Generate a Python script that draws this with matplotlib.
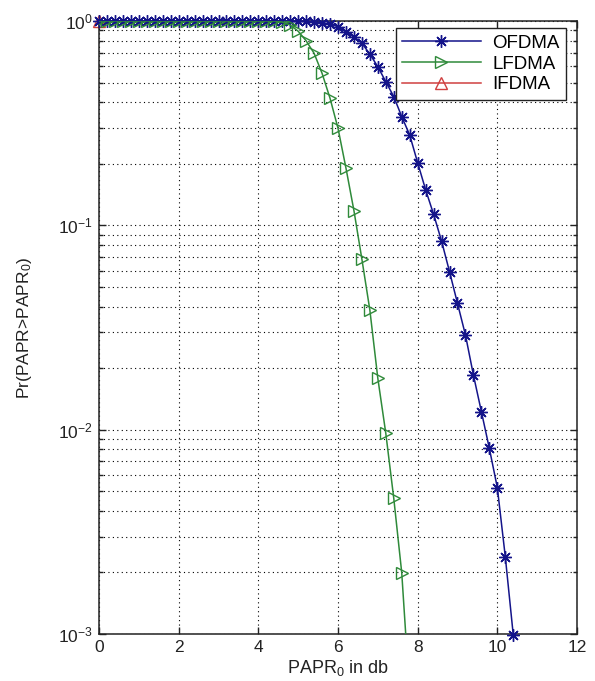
import numpy as np
import matplotlib
matplotlib.use("Agg")
import matplotlib.pyplot as plt

plt.rcParams['font.family'] = ['Liberation Sans', 'DejaVu Sans']
plt.rcParams['mathtext.default'] = 'regular'

# ---- data (x in dB, values as log10 of probability) ----
ofdma_x = [round(0.2 * i, 1) for i in range(53)]  # 0 .. 10.4
ofdma_log = [0.0] * 26 + [
    -0.002, -0.004, -0.008, -0.015,            # 5.2 .. 5.8
    -0.028, -0.052, -0.077, -0.109, -0.162,    # 6.0 .. 6.8
    -0.224, -0.297, -0.370, -0.468, -0.558,    # 7.0 .. 7.8
    -0.694, -0.826, -0.946, -1.077, -1.227,    # 8.0 .. 8.8
    -1.382, -1.537, -1.733, -1.912, -2.092,    # 9.0 .. 9.8
    -2.284, -2.622, -3.005]                    # 10.0 .. 10.4

lfdma_x = [round(0.2 * i, 1) for i in range(40)]  # 0 .. 7.8
lfdma_log = [0.0] * 23 + [
    -0.005, -0.02, -0.05, -0.097, -0.158,      # 4.6 .. 5.4
    -0.256, -0.378, -0.525, -0.720, -0.928,    # 5.6 .. 6.4
    -1.166, -1.415, -1.749, -2.018, -2.336,    # 6.6 .. 7.4
    -2.700, -3.300]                            # 7.6 .. 7.8

ifdma_x = [0.0]
ifdma_y = [1.0]

series_labels = ['OFDMA', 'LFDMA', 'IFDMA']
x_ticks = [0, 2, 4, 6, 8, 10, 12]

ofdma_y = 10.0 ** np.array(ofdma_log)
lfdma_y = 10.0 ** np.array(lfdma_log)

# ---- figure ----
fig = plt.figure(figsize=(5.95, 6.81), dpi=100)
ax = fig.add_axes([99 / 595, 1 - 634 / 681, 478 / 595, 613 / 681])

blue = '#14148a'
green = '#2f8a3a'
red = '#d04040'
txt = '#222222'

ax.plot(ofdma_x, ofdma_y, color=blue, lw=1.1, marker=(8, 2, 0), ms=9,
        mew=1.0, label=series_labels[0], clip_on=False, zorder=3)
ax.plot(lfdma_x, lfdma_y, color=green, lw=1.1, marker='>', ms=9,
        mfc='none', mew=1.0, label=series_labels[1], clip_on=True, zorder=4)
ax.plot(ifdma_x, ifdma_y, color=red, lw=1.1, marker='^', ms=9,
        mfc='none', mew=1.0, label=series_labels[2], clip_on=False, zorder=2)

ax.set_yscale('log')
ax.set_xlim(0, 12)
ax.set_ylim(1e-3, 1)
ax.set_xticks(x_ticks)
ax.set_xticklabels([str(t) for t in x_ticks])

grid_kw = dict(color='black', linestyle=(0, (1, 3)), linewidth=0.8)
ax.grid(True, which='major', axis='both', **grid_kw)
ax.grid(True, which='minor', axis='y', **grid_kw)

ax.tick_params(which='both', direction='in', top=True, right=True,
               labelsize=12.5, colors=txt, pad=4.5)
ax.tick_params(which='major', length=5, width=1)
ax.tick_params(which='minor', length=3, width=1)
ax.tick_params(axis='x', which='minor', bottom=False, top=False)
for s in ax.spines.values():
    s.set_linewidth(1.1)
    s.set_color(txt)

ax.set_xlabel('PAPR$_{0}$ in db', fontsize=13, color=txt, labelpad=2)
ax.set_ylabel('Pr(PAPR>PAPR$_{0}$)', fontsize=12.5, color=txt, labelpad=17)

leg = ax.legend(loc='upper right', fontsize=13.5, handlelength=4.2,
                fancybox=False, framealpha=1, edgecolor=txt,
                borderpad=0.35, labelspacing=0.2, handletextpad=0.6,
                borderaxespad=0, bbox_to_anchor=(566 / 595, 1 - 28 / 681),
                bbox_transform=fig.transFigure)
leg.get_frame().set_linewidth(1.0)

fig.savefig('out.png', dpi=100)
